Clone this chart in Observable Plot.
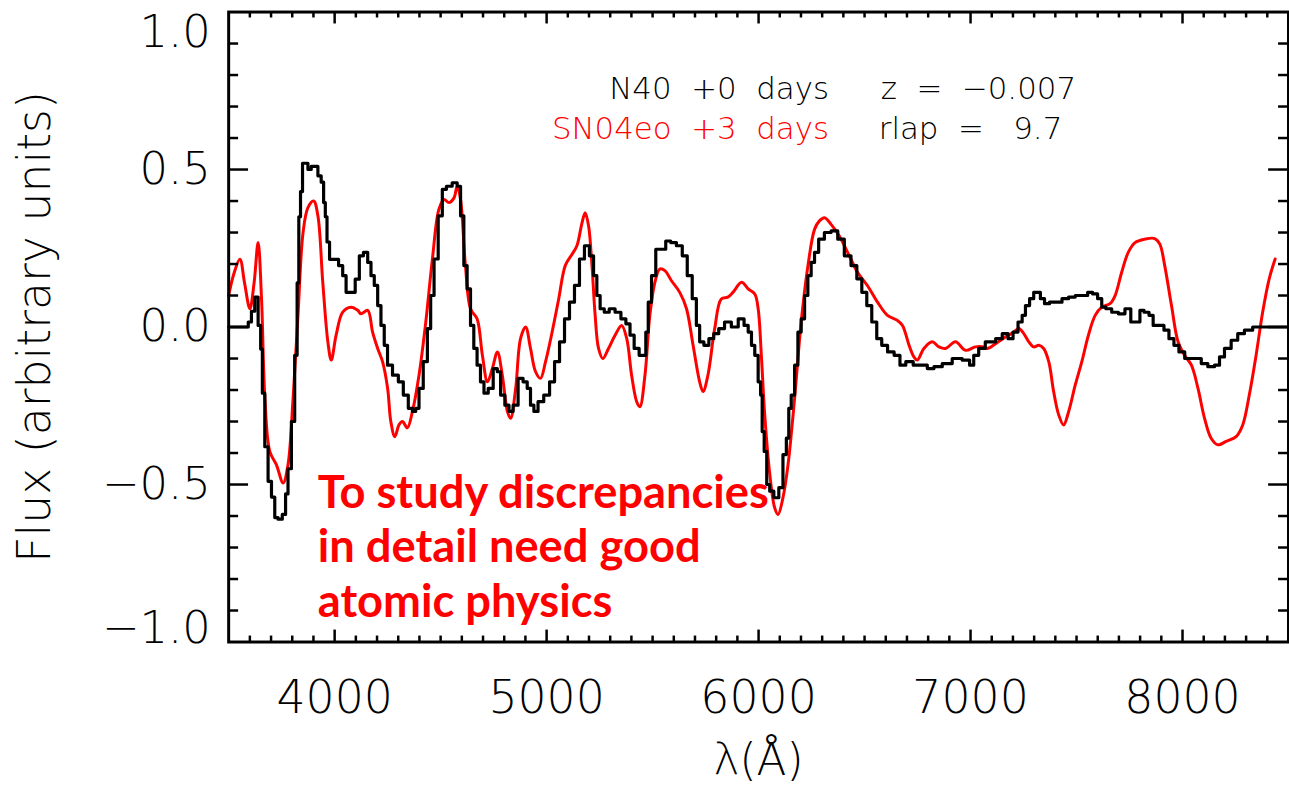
<!DOCTYPE html>
<html>
<head>
<meta charset="utf-8">
<script src="https://cdn.jsdelivr.net/npm/d3@7"></script>
<script src="https://cdn.jsdelivr.net/npm/@observablehq/plot@0.6"></script>
<style>
html, body { margin: 0; padding: 0; background: #fff; overflow: hidden; }
svg text { white-space: pre; }
</style>
</head>
<body>
<div id="chart"></div>
<script>
// ---- data ----
const obsWave = [3500,3585,3600,3615,3631,3647,3655,3663,3678,3694,3710,3725,3741,3765,3772,3788,3804,3819,3827,3835,3843,3854,3866,3882,3897,3913,3929,3944,3952,3960,3968,3984,4007,4030,4046,4062,4085,4109,4124,4148,4164,4179,4195,4211,4226,4242,4257,4289,4312,4336,4359,4375,4390,4406,4430,4445,4461,4477,4500,4516,4539,4570,4586,4602,4617,4633,4649,4664,4680,4696,4713,4736,4760,4775,4791,4815,4830,4854,4877,4901,4916,4932,4948,4971,5002,5026,5049,5073,5096,5120,5143,5167,5190,5214,5229,5245,5260,5284,5307,5339,5362,5386,5401,5425,5448,5464,5472,5487,5503,5527,5550,5574,5597,5628,5652,5675,5699,5714,5730,5754,5777,5800,5824,5855,5888,5920,5943,5959,5974,5990,6006,6013,6021,6032,6045,6060,6084,6107,6123,6139,6146,6162,6178,6193,6209,6225,6240,6256,6272,6295,6326,6358,6389,6420,6452,6475,6499,6522,6546,6569,6593,6624,6655,6679,6710,6749,6780,6812,6843,6890,6937,6984,7007,7023,7054,7085,7103,7134,7165,7189,7212,7236,7251,7267,7290,7306,7322,7337,7361,7384,7416,7447,7478,7510,7541,7564,7588,7611,7627,7650,7682,7713,7744,7768,7791,7807,7830,7854,7869,7901,7924,7948,7971,7995,8026,8073,8104,8135,8167,8182,8214,8245,8276,8308,8354,8500];
const obsFlux = [0.0,0.0,0.016,0.05,0.095,0.005,-0.07,-0.21,-0.38,-0.49,-0.54,-0.605,-0.61,-0.595,-0.53,-0.45,-0.3,-0.09,0.14,0.35,0.43,0.52,0.52,0.5,0.51,0.51,0.48,0.46,0.395,0.35,0.27,0.215,0.215,0.195,0.163,0.11,0.11,0.152,0.226,0.237,0.205,0.163,0.132,0.068,0.005,-0.058,-0.121,-0.153,-0.174,-0.216,-0.258,-0.268,-0.258,-0.195,-0.11,-0.005,0.1,0.216,0.353,0.437,0.447,0.458,0.447,0.353,0.195,0.121,0.005,-0.068,-0.121,-0.174,-0.21,-0.195,-0.132,-0.142,-0.216,-0.248,-0.268,-0.248,-0.163,-0.174,-0.195,-0.248,-0.268,-0.237,-0.216,-0.174,-0.11,-0.047,0.026,0.079,0.132,0.216,0.258,0.226,0.163,0.1,0.058,0.047,0.058,0.047,0.026,0.01,-0.026,-0.068,-0.09,-0.09,-0.016,0.079,0.163,0.247,0.247,0.273,0.268,0.258,0.226,0.163,0.09,0.005,-0.047,-0.058,-0.037,-0.021,-0.005,0.016,0.0,0.026,0.005,-0.016,-0.058,-0.09,-0.174,-0.216,-0.332,-0.395,-0.5,-0.521,-0.542,-0.51,-0.405,-0.353,-0.258,-0.216,-0.121,-0.016,0.026,0.1,0.163,0.205,0.237,0.279,0.3,0.305,0.279,0.226,0.195,0.153,0.11,0.068,0.016,-0.037,-0.058,-0.079,-0.09,-0.121,-0.11,-0.121,-0.121,-0.132,-0.126,-0.116,-0.1,-0.105,-0.121,-0.09,-0.068,-0.047,-0.047,-0.037,-0.021,-0.037,-0.016,0.016,0.037,0.068,0.09,0.11,0.11,0.09,0.074,0.079,0.079,0.09,0.095,0.1,0.1,0.11,0.105,0.09,0.063,0.058,0.047,0.042,0.058,0.016,0.016,0.053,0.047,0.037,0.005,0.005,-0.01,-0.037,-0.058,-0.079,-0.1,-0.1,-0.116,-0.126,-0.121,-0.095,-0.068,-0.042,-0.021,-0.01,0.0,0.0];

const tplWave = [3500,3525,3553,3575,3600,3620,3639,3655,3671,3694,3725,3757,3780,3804,3827,3851,3874,3901,3921,3944,3968,3984,4007,4038,4077,4109,4124,4156,4179,4203,4226,4250,4265,4284,4304,4320,4343,4367,4398,4430,4461,4492,4516,4539,4563,4578,4594,4617,4641,4672,4697,4721,4744,4768,4791,4815,4830,4854,4877,4901,4924,4948,4971,4995,5026,5057,5088,5120,5143,5167,5182,5198,5214,5229,5245,5265,5292,5323,5354,5378,5401,5425,5440,5464,5487,5511,5534,5558,5589,5628,5660,5691,5722,5738,5761,5793,5824,5855,5879,5920,5951,5982,5998,6013,6029,6053,6076,6092,6115,6139,6170,6201,6233,6264,6287,6311,6342,6381,6420,6467,6514,6561,6608,6655,6679,6710,6733,6749,6780,6819,6851,6882,6929,6976,7023,7062,7079,7118,7165,7204,7228,7251,7275,7298,7322,7345,7369,7392,7416,7439,7463,7494,7525,7556,7588,7619,7658,7682,7713,7744,7776,7822,7869,7893,7916,7948,7979,8010,8042,8073,8104,8135,8167,8206,8253,8284,8315,8347,8378,8409,8437];
const tplFlux = [0.1,0.17,0.215,0.14,0.058,0.14,0.268,0.09,-0.226,-0.395,-0.437,-0.495,-0.437,-0.226,0.037,0.3,0.379,0.4,0.353,0.142,-0.047,-0.105,-0.026,0.047,0.063,0.053,0.042,0.053,-0.016,-0.068,-0.11,-0.195,-0.3,-0.348,-0.31,-0.3,-0.32,-0.268,-0.153,0.016,0.215,0.374,0.405,0.395,0.41,0.447,0.405,0.195,0.058,0.026,-0.09,-0.174,-0.132,-0.079,-0.153,-0.268,-0.29,-0.195,-0.037,0.0,-0.068,-0.142,-0.163,-0.11,-0.016,0.089,0.195,0.231,0.258,0.331,0.363,0.321,0.195,0.037,-0.068,-0.1,-0.068,-0.026,0.005,-0.037,-0.153,-0.237,-0.253,-0.153,0.037,0.142,0.184,0.179,0.147,0.11,0.058,-0.058,-0.174,-0.205,-0.153,-0.005,0.089,0.095,0.11,0.142,0.121,0.105,0.058,-0.09,-0.279,-0.468,-0.574,-0.595,-0.542,-0.437,-0.226,0.016,0.195,0.31,0.337,0.347,0.326,0.289,0.237,0.174,0.131,0.079,0.037,0.021,0.005,-0.058,-0.095,-0.105,-0.068,-0.047,-0.063,-0.068,-0.047,-0.074,-0.063,-0.063,-0.068,-0.053,-0.032,-0.016,-0.005,-0.021,-0.047,-0.063,-0.058,-0.068,-0.11,-0.205,-0.279,-0.311,-0.268,-0.184,-0.11,-0.026,0.037,0.063,0.074,0.1,0.174,0.237,0.268,0.279,0.281,0.263,0.195,0.068,-0.047,-0.09,-0.121,-0.195,-0.29,-0.353,-0.374,-0.363,-0.348,-0.311,-0.216,-0.09,0.047,0.153,0.216];

const xTickValues = [4000, 5000, 6000, 7000, 8000];
const xTickLabels = ["4000", "5000", "6000", "7000", "8000"];
const yTickValues = [-1.0, -0.5, 0.0, 0.5, 1.0];
const yTickLabels = ["\u22121.0", "\u22120.5", "0.0", "0.5", "1.0"];
const xTitle = "\u03bb(\u00c5)";
const yTitle = "Flux (arbitrary units)";
const legendRow1 = ["N40  +0  days", "z  =  \u22120.007"];
const legendRow2 = ["SN04eo  +3  days", "rlap  =   9.7"];
const noteLines = ["To study discrepancies", "in detail need good", "atomic physics"];

// ---- layout ----
const W = 1296, H = 789;
const mL = 229.4, mR = 1, mT = 11.6, mB = 144;
const FW = W - mL - mR, FH = H - mT - mB;
const RED = "#ff0000";
const AX = "DejaVu Sans";
const AXW = 200;

const obs = obsWave.map((w, i) => ({w, f: obsFlux[i]}));
const tpl = tplWave.map((w, i) => ({w, f: tplFlux[i]}));
const yTicks = yTickValues.map((v, i) => ({v, label: yTickLabels[i]}));
const xTicks = xTickValues.map((v, i) => ({v, label: xTickLabels[i]}));
const xMinor = d3.range(3600, 8500, 100).filter(v => v % 1000 !== 0);
const yMinor = d3.range(-9, 10).map(k => k / 10).filter(v => Math.abs(v * 10) % 5 !== 0);
const yMajorInner = yTickValues.filter(v => Math.abs(v) < 1);

const chart = Plot.plot({
  width: W, height: H,
  marginLeft: mL, marginRight: mR, marginTop: mT, marginBottom: mB,
  x: {domain: [3500, 8500], axis: null},
  y: {domain: [-1, 1], axis: null},
  style: {background: "#fff", overflow: "visible"},
  marks: [
    // curves
    Plot.line(tpl, {x: "w", y: "f", curve: "catmull-rom", stroke: RED, strokeWidth: 3}),
    Plot.line(obs, {x: "w", y: "f", curve: "step", stroke: "#000", strokeWidth: 3.2}),
    // ticks (inward, all four sides)
    Plot.tickX(xTickValues, {x: d => d, insetTop: FH - 12, stroke: "#000", strokeWidth: 2.5}),
    Plot.tickX(xTickValues, {x: d => d, insetBottom: FH - 12, stroke: "#000", strokeWidth: 2.5}),
    Plot.tickX(xMinor, {x: d => d, insetTop: FH - 6, stroke: "#000", strokeWidth: 2.5}),
    Plot.tickX(xMinor, {x: d => d, insetBottom: FH - 6, stroke: "#000", strokeWidth: 2.5}),
    Plot.tickY(yMajorInner, {y: d => d, insetRight: FW - 20, stroke: "#000", strokeWidth: 2.5}),
    Plot.tickY(yMajorInner, {y: d => d, insetLeft: FW - 20, stroke: "#000", strokeWidth: 2.5}),
    Plot.tickY(yMinor, {y: d => d, insetRight: FW - 10, stroke: "#000", strokeWidth: 2.5}),
    Plot.tickY(yMinor, {y: d => d, insetLeft: FW - 10, stroke: "#000", strokeWidth: 2.5}),
    Plot.frame({stroke: "#000", strokeWidth: 3}),
    // x tick labels
    Plot.text(xTicks, {x: "v", text: "label", frameAnchor: "bottom", dy: 57, lineAnchor: "middle",
      fontFamily: AX, fontWeight: AXW, fontSize: 46, fill: "#000", letterSpacing: "1px"}),
    // y tick labels
    Plot.text(yTicks.filter(d => Math.abs(d.v) < 1), {y: "v", text: "label", frameAnchor: "left", dx: -18,
      textAnchor: "end", lineAnchor: "middle", fontFamily: AX, fontWeight: AXW, fontSize: 45, fill: "#000", letterSpacing: "1px"}),
    Plot.text(yTicks.filter(d => d.v === 1), {y: "v", text: "label", frameAnchor: "left", dx: -18, dy: 3,
      textAnchor: "end", lineAnchor: "top", fontFamily: AX, fontWeight: AXW, fontSize: 45, fill: "#000", letterSpacing: "1px"}),
    Plot.text(yTicks.filter(d => d.v === -1), {y: "v", text: "label", frameAnchor: "left", dx: -18, dy: 1,
      textAnchor: "end", lineAnchor: "bottom", fontFamily: AX, fontWeight: AXW, fontSize: 45, fill: "#000", letterSpacing: "1px"}),
    // axis titles
    Plot.text([xTitle], {frameAnchor: "bottom", dy: 134, lineAnchor: "bottom", textAnchor: "middle",
      fontFamily: AX, fontWeight: AXW, fontSize: 44, fill: "#000"}),
    Plot.text([yTitle], {frameAnchor: "left", dx: -194, rotate: -90, lineAnchor: "middle", textAnchor: "middle",
      fontFamily: AX, fontWeight: AXW, fontSize: 46, fill: "#000", letterSpacing: "5px"}),
    // legend
    Plot.text([legendRow1[0]], {frameAnchor: "top-left", dx: 833 - mL, dy: 99 - mT, textAnchor: "end",
      lineAnchor: "bottom", fontFamily: AX, fontWeight: AXW, fontSize: 31, fill: "#000"}),
    Plot.text([legendRow1[1]], {frameAnchor: "top-left", dx: 885 - mL, dy: 99 - mT, textAnchor: "start",
      lineAnchor: "bottom", fontFamily: AX, fontWeight: AXW, fontSize: 31, fill: "#000"}),
    Plot.text([legendRow2[0]], {frameAnchor: "top-left", dx: 833 - mL, dy: 139 - mT, textAnchor: "end",
      lineAnchor: "bottom", fontFamily: AX, fontWeight: AXW, fontSize: 31, fill: RED}),
    Plot.text([legendRow2[1]], {frameAnchor: "top-left", dx: 883 - mL, dy: 139 - mT, textAnchor: "start",
      lineAnchor: "bottom", fontFamily: AX, fontWeight: AXW, fontSize: 31, fill: "#000"}),
    // annotation
    Plot.text([noteLines[0]], {frameAnchor: "top-left", dx: 319 - mL, dy: 510 - mT, textAnchor: "start",
      lineAnchor: "bottom", fontFamily: "Lato", fontWeight: "bold", fontSize: 45.5, fill: RED}),
    Plot.text([noteLines[1]], {frameAnchor: "top-left", dx: 319 - mL, dy: 565 - mT, textAnchor: "start",
      lineAnchor: "bottom", fontFamily: "Lato", fontWeight: "bold", fontSize: 45.5, fill: RED}),
    Plot.text([noteLines[2]], {frameAnchor: "top-left", dx: 319 - mL, dy: 620 - mT, textAnchor: "start",
      lineAnchor: "bottom", fontFamily: "Lato", fontWeight: "bold", fontSize: 45.5, fill: RED})
  ]
});
document.getElementById("chart").appendChild(chart);
</script>
</body>
</html>
